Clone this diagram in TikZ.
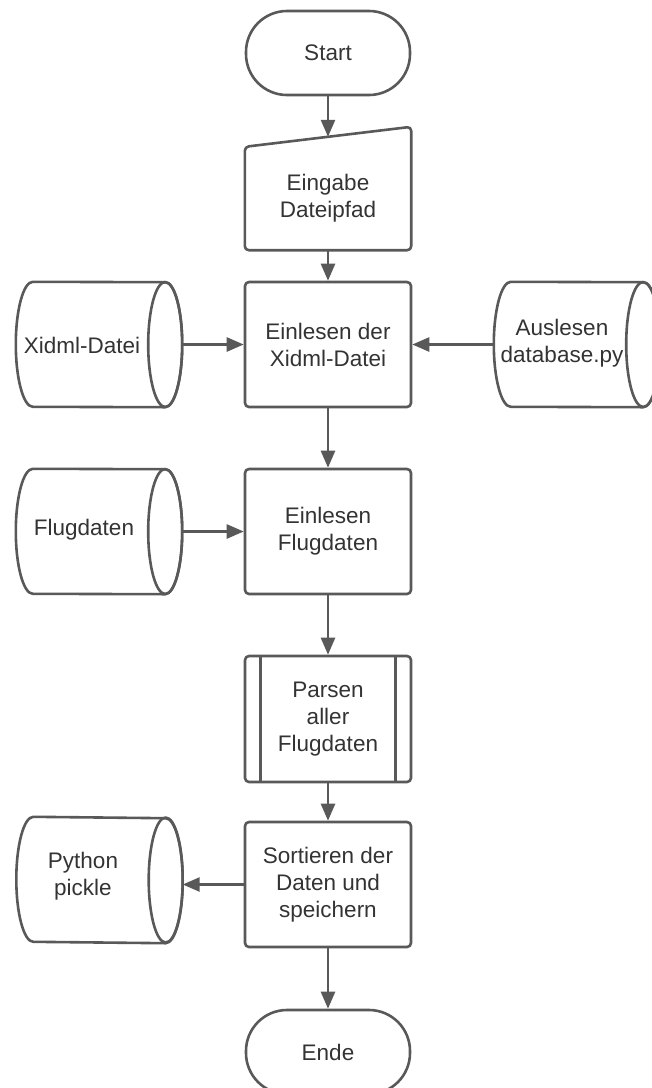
\documentclass[tikz,border=0pt]{standalone}
\usepackage{fontspec}
\setmainfont{Liberation Sans}
\usetikzlibrary{arrows.meta,calc}

\definecolor{strokegray}{HTML}{595959}
\definecolor{textgray}{HTML}{333333}

% horizontal storage drum: rounded left end, full ellipse on the right
\newcommand{\drumoutline}[1]{%
  \draw[outline] ([xshift=17pt]#1.north west)
      arc[start angle=90, end angle=270, x radius=17pt, y radius=62.5pt]
      -- ([xshift=-17pt]#1.south east)
      arc[start angle=-90, end angle=90, x radius=17pt, y radius=62.5pt]
      -- cycle;
  \draw[outline] ([xshift=-17pt]#1.east) ellipse[x radius=17pt, y radius=62.5pt];
}

\begin{document}
\begin{tikzpicture}[x=1pt, y=1pt,
  outline/.style={draw=strokegray, line width=2.6pt, line join=round},
  label/.style={text=textgray, align=center, font=\fontsize{22.5}{27}\selectfont},
  terminal/.style={outline, label, rounded corners=41pt, minimum width=164pt, minimum height=84pt, inner sep=0pt},
  process/.style={outline, label, rounded corners=4pt, minimum width=166pt, minimum height=125pt, inner sep=0pt},
  area/.style={minimum width=166pt, minimum height=125pt, inner sep=0pt},
  flow/.style={draw=strokegray, line width=2.6pt, -{Triangle[length=17pt, width=14pt]}}
]
\useasboundingbox (0,-1088) rectangle (652,0);

% main column
\node[terminal] (start) at (328,-53) {Start};
\node[label, minimum width=166pt, minimum height=103pt, inner sep=0pt] (input) at (328,-198.5) {Eingabe\\Dateipfad};
\draw[outline, rounded corners=4pt] (input.south west) -- (input.north west)
    -- ([yshift=20pt]input.north east) -- (input.south east) -- cycle;
\coordinate (intop) at ($(input.north)+(0,10pt)$);

\node[process] (readx) at (328,-344.5) {Einlesen der\\Xidml-Datei};
\node[process] (readflug) at (328,-531.5) {Einlesen\\Flugdaten};
\node[process, minimum height=126pt] (parse) at (328,-719) {Parsen\\aller\\Flugdaten};
\draw[outline] ([xshift=17pt]parse.north west) -- ([xshift=17pt]parse.south west);
\draw[outline] ([xshift=-17pt]parse.north east) -- ([xshift=-17pt]parse.south east);
\node[process] (sort) at (328,-884.5) {Sortieren der\\Daten und\\speichern};
\node[terminal] (end) at (328,-1052) {Ende};

% data stores
\node[area] (xidml) at (99,-344.5) {};
\drumoutline{xidml}
\node[label] (xidmltext) at (82,-345) {Xidml-Datei};

\node[area] (db) at (577,-344.5) {};
\drumoutline{db}
\node[label] (dbtext) at (562,-343) {Auslesen\\database.py};

\node[area] (flug) at (99,-531.5) {};
\drumoutline{flug}
\node[label] (flugtext) at (84,-530) {Flugdaten};

\node[area, minimum height=126pt] (pickle) at (99.5,-880) {};
\drumoutline{pickle}
\node[label] (pickletext) at (83,-876) {Python\\pickle};

% connectors
\draw[flow] (start.south) -- (intop);
\draw[flow] (input.south) -- (readx.north);
\draw[flow] (xidml.east) -- (readx.west);
\draw[flow] (db.west) -- (readx.east);
\draw[flow] (readx.south) -- (readflug.north);
\draw[flow] (flug.east) -- (readflug.west);
\draw[flow] (readflug.south) -- (parse.north);
\draw[flow] (parse.south) -- (sort.north);
\draw[flow] (sort.west) -- (sort.west -| pickle.east);
\draw[flow] (sort.south) -- (end.north);
\end{tikzpicture}
\end{document}
